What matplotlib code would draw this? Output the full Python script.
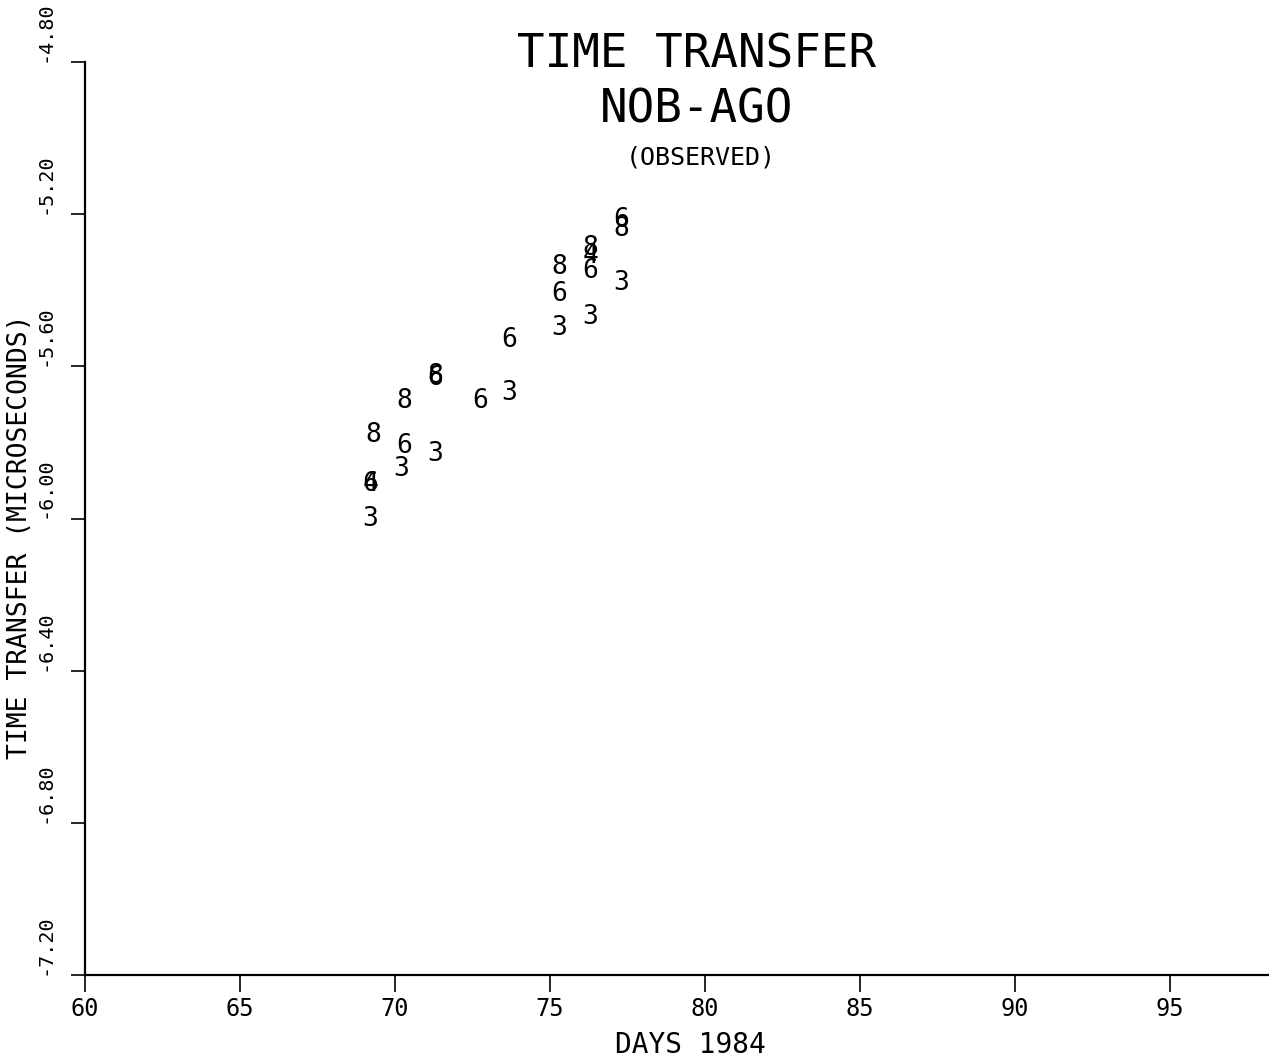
import matplotlib
matplotlib.use('Agg')
import matplotlib.pyplot as plt

plt.rcParams['font.family'] = ['DejaVu Sans Mono', 'DejaVu Sans']

# observed time transfer, one series per satellite (plotted as digit markers)
days3 = [69.2, 70.2, 71.3, 73.7, 75.3, 76.3, 77.3]
tt3 = [-6.00, -5.87, -5.83, -5.67, -5.50, -5.47, -5.38]

days4 = [69.2, 76.3]
tt4 = [-5.91, -5.31]

days6 = [69.2, 70.3, 71.3, 72.75, 73.7, 75.3, 76.3, 77.3]
tt6 = [-5.91, -5.81, -5.63, -5.69, -5.53, -5.41, -5.35, -5.215]

days8 = [69.3, 70.3, 71.3, 75.3, 76.3, 77.3]
tt8 = [-5.78, -5.69, -5.625, -5.34, -5.29, -5.24]

series = [('3', days3, tt3), ('4', days4, tt4), ('6', days6, tt6), ('8', days8, tt8)]

xticks = [60, 65, 70, 75, 80, 85, 90, 95]
yticks = [-7.20, -6.80, -6.40, -6.00, -5.60, -5.20, -4.80]
ytick_labels = ['-7.20', '-6.80', '-6.40', '-6.00', '-5.60', '-5.20', '-4.80']

fig = plt.figure(figsize=(12.69, 10.62), dpi=100)
ax = fig.add_axes([85/1269, 1 - 975/1062, 1 - 85/1269, (975 - 62)/1062])

# digits overlap on the original plot where points coincide
for lab, xs, ys in series:
    for x, y in zip(xs, ys):
        ax.text(x, y, lab, ha='center', va='center', fontsize=19, color='black')

ax.set_xlim(60, 98.2)
ax.set_ylim(-7.20, -4.80)

for s in ['top', 'right']:
    ax.spines[s].set_visible(False)
ax.spines['left'].set_linewidth(1.6)
ax.spines['bottom'].set_linewidth(1.6)

ax.set_xticks(xticks)
ax.set_xticklabels([str(t) for t in xticks], fontsize=17)
ax.tick_params(axis='x', direction='out', length=12, width=1.2, pad=4)

ax.set_yticks(yticks)
ax.set_yticklabels(ytick_labels, fontsize=14.5)
ax.tick_params(axis='y', direction='out', length=10, width=1.2, pad=19)
for t in ax.get_yticklabels():
    t.set_rotation(90)
    t.set_rotation_mode('anchor')
    t.set_ha('left')
    t.set_va('center')

ax.set_xlabel('DAYS 1984', fontsize=20)
ax.xaxis.set_label_coords(0.511, -0.077)
ax.xaxis.label.set_va('center')
ax.set_ylabel('TIME TRANSFER (MICROSECONDS)', fontsize=19)
ax.yaxis.set_label_coords(-0.055, 0.48)
ax.yaxis.label.set_va('center')

fig.text(0.549, 1 - 55/1062, 'TIME TRANSFER', ha='center', va='center', fontsize=33)
fig.text(0.549, 1 - 110/1062, 'NOB-AGO', ha='center', va='center', fontsize=33)
fig.text(0.552, 1 - 158/1062, '(OBSERVED)', ha='center', va='center', fontsize=18)

fig.savefig('out.png', dpi=100)
